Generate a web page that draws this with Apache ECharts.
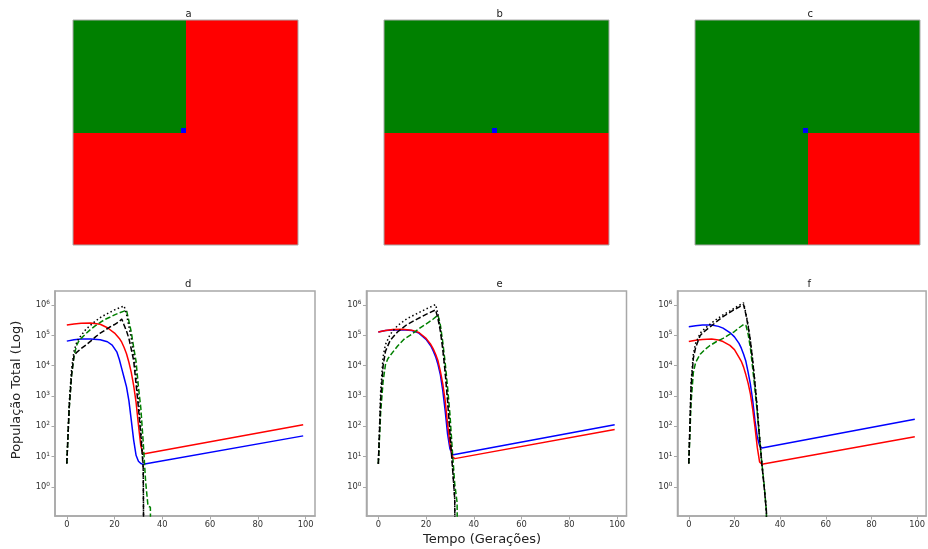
<!DOCTYPE html>
<html><head><meta charset="utf-8">
<script src="https://cdn.jsdelivr.net/npm/echarts@6/dist/echarts.min.js"></script>
<style>html,body{margin:0;padding:0;background:#fff}#c{width:928px;height:549px}</style>
</head><body><div id="c"></div><script>
// ---------- DATA ----------
// Top panels: 50x50 lattice, quadrant states [[top-left, top-right],[bottom-left, bottom-right]]; 1 = green, 0 = red
const latticeSize = 50;
const quadA = [[1, 0], [0, 0]];
const quadB = [[1, 1], [0, 0]];
const quadC = [[1, 1], [1, 0]];
const blueCell = [24, 24]; // [column, row from top]
const topTitles = ['a', 'b', 'c'];
const bottomTitles = ['d', 'e', 'f'];

// Bottom panels: [generation, total population]
const d_blue = [[0,6.5e4],[3,7.2e4],[6,7.6e4],[10,7.6e4],[14,7.2e4],[17,6.2e4],[19,4.8e4],[21,2.8e4],[22,1.6e4],[23,8e3],[24,4e3],[25,2e3],[26,700],[27,160],[28,35],[29,11],[30,7],[31,5.9],[32,5.5],[99,48]];
const d_red = [[0,2.2e5],[3,2.4e5],[6,2.55e5],[10,2.6e5],[14,2.35e5],[17,1.8e5],[20,1.2e5],[22,8e4],[23,6e4],[24,4e4],[25,2.5e4],[26,1.3e4],[27,6e3],[28,2.2e3],[29,630],[30,110],[31,22],[32,12],[99,112]];
const d_green = [[0,5.9],[1,400],[2,5000],[3,2e4],[4,4.5e4],[5,6.5e4],[6,8e4],[8,1.15e5],[10,1.6e5],[12,2.1e5],[14,2.7e5],[16,3.4e5],[18,4e5],[20,4.8e5],[22,5.6e5],[24,6.4e5],[25,6.8e5],[26,3e5],[27,1.3e5],[28,4e4],[29,1.4e4],[30,2e3],[31,400],[32,30],[33,1.5],[34,0.23],[35,0.21],[36,0]];
const d_blackDash = [[0,5.9],[1,400],[2,5000],[3,2.2e4],[4,2.7e4],[6,3.7e4],[8,4.8e4],[10,6.5e4],[12,9e4],[14,1.2e5],[16,1.5e5],[18,1.9e5],[20,2.3e5],[22,2.9e5],[23,3.5e5],[24,2.2e5],[25,1.4e5],[26,8e4],[27,3.5e4],[28,1.5e4],[29,2.5e3],[30,400],[31,50],[32,4],[33,0]];
const d_blackDot = [[0,5.9],[1,600],[2,8000],[3,3e4],[4,5.5e4],[5,8e4],[6,1e5],[8,1.6e5],[10,2.2e5],[12,3e5],[14,3.9e5],[16,4.8e5],[18,5.8e5],[20,7e5],[22,8.2e5],[24,9.5e5],[25,5e5],[26,2e5],[27,8e4],[28,2.5e4],[29,5e3],[30,800],[31,80],[32,5],[33,0]];

const e_blue = [[0,1.3e5],[3,1.45e5],[6,1.52e5],[10,1.55e5],[14,1.45e5],[17,1.2e5],[20,7.4e4],[22,4.5e4],[23,3.1e4],[24,2e4],[25,1.1e4],[26,5e3],[27,1.5e3],[28,330],[29,56],[30,18],[31,11.3],[32,11.7],[99,112]];
const e_red = [[0,1.3e5],[3,1.45e5],[6,1.58e5],[10,1.6e5],[14,1.5e5],[17,1.25e5],[20,8e4],[22,5e4],[23,3.6e4],[24,2.4e4],[25,1.45e4],[26,6.5e3],[27,2.5e3],[28,700],[29,120],[30,26],[31,10],[32,8.5],[99,78]];
const e_green = [[0,5.7],[1,300],[2,3000],[3,1.1e4],[4,1.7e4],[5,2.2e4],[8,4.4e4],[11,7.8e4],[14,1.1e5],[16,1.45e5],[18,1.9e5],[21,2.7e5],[23,3.5e5],[25,4.7e5],[26,2.2e5],[27,6e4],[28,1.25e4],[29,2e3],[30,250],[31,16],[32,1.25],[33,0.3],[34,0]];
const e_blackDash = [[0,5.7],[1,800],[2,1e4],[3,3e4],[5,7e4],[8,1.3e5],[12,2.3e5],[16,3.4e5],[20,5e5],[24,7e5],[25,3.5e5],[26,1.4e5],[27,3.5e4],[28,6e3],[29,700],[30,60],[31,5],[32,0.4],[33,0]];
const e_blackDot = [[0,5.7],[1,1500],[2,2e4],[3,5e4],[5,1.1e5],[8,2.1e5],[12,3.6e5],[16,5.2e5],[20,7.5e5],[24,1.05e6],[25,5e5],[26,1.6e5],[27,4e4],[28,7e3],[29,900],[30,80],[31,6],[32,0.4],[33,0]];

const f_blue = [[0,1.95e5],[3,2.1e5],[6,2.2e5],[10,2.2e5],[13,2e5],[15,1.75e5],[18,1.25e5],[20,9e4],[22,5.5e4],[23,3.8e4],[24,2.4e4],[25,1.4e4],[26,6e3],[27,2.4e3],[28,700],[29,150],[30,44],[31,23],[32,19],[99,170]];
const f_red = [[0,6.3e4],[3,6.9e4],[6,7.4e4],[10,7.6e4],[13,7.1e4],[15,6.3e4],[18,4.7e4],[20,3.4e4],[22,1.9e4],[23,1.4e4],[24,9e3],[25,5e3],[26,2.6e3],[27,1.15e3],[28,360],[29,93],[30,20],[31,6.6],[32,5.5],[99,45]];
const f_green = [[0,5.9],[1,600],[2,6000],[3,1.3e4],[5,2.4e4],[7,3.4e4],[9,4.5e4],[12,6.2e4],[15,8e4],[18,1.1e5],[20,1.35e5],[22,1.8e5],[24,2.3e5],[25,2.2e5],[26,1.1e5],[27,3.8e4],[28,8e3],[29,1.6e3],[30,280],[31,40],[32,6],[33,1.2],[34,0.15],[35,0]];
const f_blackDash = [[0,5.9],[1,2000],[2,1.8e4],[3,4e4],[5,1e5],[7,1.4e5],[10,2.1e5],[13,3.2e5],[15,4.2e5],[18,5.8e5],[20,7.2e5],[22,8.7e5],[24,1.05e6],[25,5e5],[26,2e5],[27,6.3e4],[28,1.4e4],[29,2.5e3],[30,350],[31,40],[32,5.6],[33,1],[34,0.15],[35,0]];
const f_blackDot = [[0,5.9],[1,3000],[2,2.5e4],[3,5.5e4],[5,1.2e5],[7,1.7e5],[10,2.6e5],[13,3.8e5],[15,4.8e5],[18,6.5e5],[20,8e5],[22,9.8e5],[24,1.2e6],[25,5.5e5],[26,2.2e5],[27,6.5e4],[28,1.5e4],[29,2.7e3],[30,380],[31,45],[32,6],[33,1.1],[34,0.16],[35,0]];

const xRange = [-4.95, 103.95];
const yRange = [0.108, 2.95e6];

// ---------- LAYOUT / STYLE ----------
const topLefts = [73, 384, 695];
const topTop = 20, topSize = 225;
const botLefts = [55, 366.5, 677.5];
const botTop = 291, botW = 260, botH = 225;
const spine = '#a8a8a8';
const FONT = 'DejaVu Sans';
const CLIP_FLOOR = 1e-12; // matplotlib clips non-positive values on log scale
const stateColors = ['#ff0000', '#008000', '#0000ff'];

const panels = [
  [d_blue, d_red, d_green, d_blackDash, d_blackDot],
  [e_blue, e_red, e_green, e_blackDash, e_blackDot],
  [f_blue, f_red, f_green, f_blackDash, f_blackDot]
];
const lineStyles = [
  {color: '#0000ff', type: 'solid'},
  {color: '#ff0000', type: 'solid'},
  {color: '#008000', type: [5.5, 2.4]},
  {color: '#000000', type: [5.5, 2.4]},
  {color: '#000000', type: [1.5, 2.5]}
];

// lattice blocks: [col0, row0, col1(excl), row1(excl), state]
function latticeBlocks(q) {
  const h = latticeSize / 2, out = [];
  for (let qr = 0; qr < 2; qr++)
    for (let qc = 0; qc < 2; qc++)
      out.push([qc * h, qr * h, qc * h + h, qr * h + h, q[qr][qc]]);
  out.push([blueCell[0], blueCell[1], blueCell[0] + 1, blueCell[1] + 1, 2]);
  return out;
}

const grid = [], xAxis = [], yAxis = [], series = [], graphic = [];
[quadA, quadB, quadC].forEach((q, i) => {
  grid.push({left: topLefts[i], top: topTop, width: topSize, height: topSize, show: true,
    borderColor: spine, borderWidth: 1, backgroundColor: 'transparent', z: 5});
  xAxis.push({type: 'value', min: 0, max: latticeSize, gridIndex: i, show: false});
  yAxis.push({type: 'value', min: 0, max: latticeSize, gridIndex: i, show: false, inverse: true});
  series.push({type: 'custom', xAxisIndex: i, yAxisIndex: i, data: latticeBlocks(q),
    encode: {x: [0, 2], y: [1, 3]}, clip: true, z: 1,
    renderItem: (params, api) => {
      const p0 = api.coord([api.value(0), api.value(1)]);
      const p1 = api.coord([api.value(2), api.value(3)]);
      const x0 = Math.round(Math.min(p0[0], p1[0])), x1 = Math.round(Math.max(p0[0], p1[0]));
      const y0 = Math.round(Math.min(p0[1], p1[1])), y1 = Math.round(Math.max(p0[1], p1[1]));
      return {type: 'rect', shape: {x: x0, y: y0, width: x1 - x0, height: y1 - y0},
        style: {fill: stateColors[api.value(4)], stroke: null}};
    }});
  graphic.push({type: 'text', left: topLefts[i] + topSize / 2, top: 9,
    style: {text: topTitles[i], font: '10px ' + FONT, fill: '#222', textAlign: 'center'}});
});

panels.forEach((set, p) => {
  const gi = 3 + p;
  grid.push({left: botLefts[p], top: botTop, width: botW, height: botH, show: true,
    borderColor: spine, borderWidth: 1.5, backgroundColor: 'transparent'});
  xAxis.push({type: 'value', gridIndex: gi, min: xRange[0], max: xRange[1],
    axisLine: {show: true, onZero: false, lineStyle: {color: spine, width: 1.5}}, splitLine: {show: false},
    axisTick: {show: true, inside: false, length: 3.5, lineStyle: {color: spine, width: 1}},
    axisLabel: {showMinLabel: false, showMaxLabel: false, fontFamily: FONT, fontSize: 8.3, color: '#333', margin: 5}});
  yAxis.push({type: 'log', logBase: 10, gridIndex: gi, min: yRange[0], max: yRange[1],
    axisLine: {show: true, onZero: false, lineStyle: {color: spine, width: 1.5}}, splitLine: {show: false}, minorTick: {show: false},
    axisTick: {show: true, inside: false, length: 3.5, lineStyle: {color: spine, width: 1}},
    axisLabel: {showMinLabel: false, showMaxLabel: false, fontFamily: FONT, fontSize: 8.3, color: '#333', margin: 5,
      formatter: v => '10{s|' + Math.round(Math.log10(v)) + '}',
      rich: {s: {fontFamily: FONT, fontSize: 5.8, color: '#333', padding: [0, 0, 5, 0]}}}});
  set.forEach((arr, k) => {
    series.push({type: 'line', xAxisIndex: gi, yAxisIndex: gi, showSymbol: false, clip: true,
      data: arr.map(([x, y]) => [x, y > 0 ? y : CLIP_FLOOR]),
      lineStyle: {color: lineStyles[k].color, type: lineStyles[k].type, width: 1.5},
      itemStyle: {color: lineStyles[k].color}, emphasis: {disabled: true}, z: 2 + k});
  });
  graphic.push({type: 'text', left: botLefts[p] + botW / 2, top: 279,
    style: {text: bottomTitles[p], font: '10px ' + FONT, fill: '#222', textAlign: 'center'}});
});

graphic.push({type: 'text', x: 17, y: 390, rotation: Math.PI / 2,
  style: {text: 'População Total (Log)', font: '13px ' + FONT, fill: '#222', align: 'center', verticalAlign: 'middle'}});
graphic.push({type: 'text', x: 482, y: 540,
  style: {text: 'Tempo (Gerações)', font: '13px ' + FONT, fill: '#222', align: 'center', verticalAlign: 'middle'}});

const chart = echarts.init(document.getElementById('c'), null, {renderer: 'canvas'});
chart.setOption({
  animation: false,
  backgroundColor: '#ffffff',
  grid, xAxis, yAxis, series, graphic
});
</script></body></html>
